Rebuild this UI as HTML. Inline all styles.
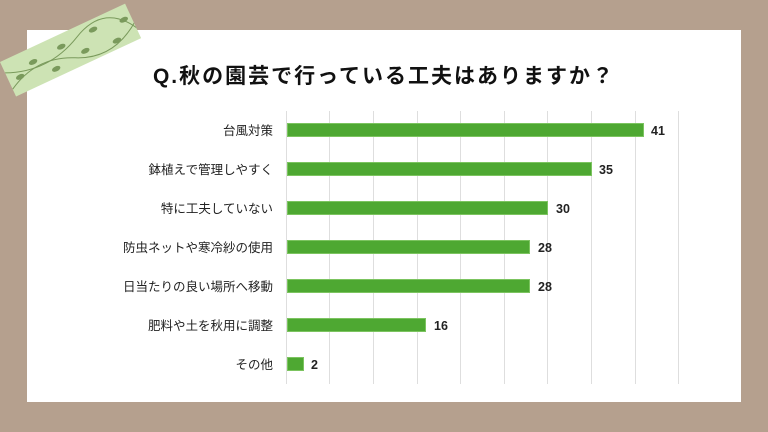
<!DOCTYPE html>
<html><head><meta charset="utf-8"><style>
body{margin:0;width:768px;height:432px;background:#b5a08e;position:relative;overflow:hidden;font-family:"Liberation Sans","Noto Sans CJK JP",sans-serif}
.card{position:absolute;left:27px;top:30px;width:714px;height:372px;background:#fff}
.title{position:absolute;left:0;width:768px;top:60px;text-align:center;font-size:21px;font-weight:bold;letter-spacing:2px;color:#111}
.lbl{position:absolute;right:495px;font-size:12.5px;color:#222;white-space:nowrap}
.g{position:absolute;top:111px;height:273px;width:1px;background:#dedede}
.bar{position:absolute;left:287px;height:14px;background:#4ea832;border:1px solid #7cc460;box-sizing:border-box}
.v{position:absolute;font-size:12.5px;color:#222;font-weight:bold}
.tape{position:absolute;left:0;top:62px;width:138px;height:38px;background:#cde3b4;transform:rotate(-25deg);transform-origin:0 0;overflow:hidden}
</style></head><body>
<div class="card"></div>
<div class="tape"><svg width="140" height="42">
<g stroke="#7a9a5c" fill="#7a9a5c" stroke-width="1">
<path d="M0 30 Q35 10 70 28 T140 20" fill="none"/>
<path d="M0 12 Q40 30 80 10 T140 30" fill="none"/>
<ellipse cx="12" cy="22" rx="4" ry="2"/><ellipse cx="30" cy="14" rx="4" ry="2"/><ellipse cx="48" cy="30" rx="4" ry="2"/><ellipse cx="62" cy="12" rx="4" ry="2"/><ellipse cx="82" cy="26" rx="4" ry="2"/><ellipse cx="98" cy="10" rx="4" ry="2"/><ellipse cx="115" cy="30" rx="4" ry="2"/><ellipse cx="130" cy="14" rx="4" ry="2"/>
</g></svg></div>
<div class="title">Q.秋の園芸で行っている工夫はありますか？</div>
<div class="g" style="left:286px"></div><div class="g" style="left:329px"></div><div class="g" style="left:373px"></div><div class="g" style="left:417px"></div><div class="g" style="left:460px"></div><div class="g" style="left:504px"></div><div class="g" style="left:547px"></div><div class="g" style="left:591px"></div><div class="g" style="left:635px"></div><div class="g" style="left:678px"></div>
<div class="lbl" style="top:120px">台風対策</div><div class="bar" style="top:123px;width:357px"></div><div class="v" style="left:651px;top:124px">41</div>
<div class="lbl" style="top:159px">鉢植えで管理しやすく</div><div class="bar" style="top:162px;width:305px"></div><div class="v" style="left:599px;top:163px">35</div>
<div class="lbl" style="top:198px">特に工夫していない</div><div class="bar" style="top:201px;width:261px"></div><div class="v" style="left:556px;top:202px">30</div>
<div class="lbl" style="top:237px">防虫ネットや寒冷紗の使用</div><div class="bar" style="top:240px;width:243px"></div><div class="v" style="left:538px;top:241px">28</div>
<div class="lbl" style="top:276px">日当たりの良い場所へ移動</div><div class="bar" style="top:279px;width:243px"></div><div class="v" style="left:538px;top:280px">28</div>
<div class="lbl" style="top:315px">肥料や土を秋用に調整</div><div class="bar" style="top:318px;width:139px"></div><div class="v" style="left:434px;top:319px">16</div>
<div class="lbl" style="top:354px">その他</div><div class="bar" style="top:357px;width:17px"></div><div class="v" style="left:311px;top:358px">2</div>
</body></html>
